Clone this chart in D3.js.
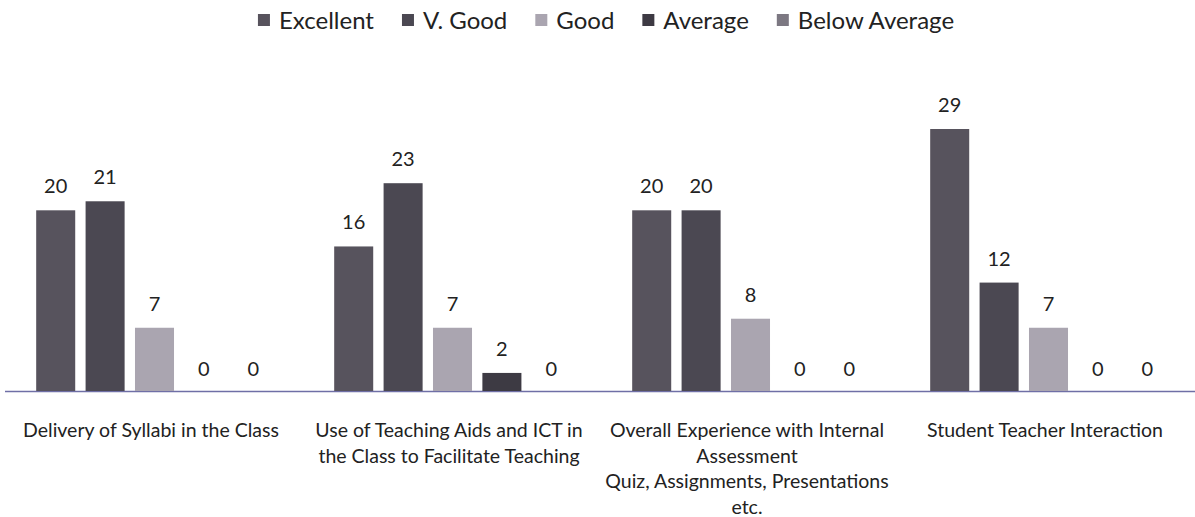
<!DOCTYPE html>
<html>
<head>
<meta charset="utf-8">
<script src="https://cdn.jsdelivr.net/npm/d3@7"></script>
<style>
  body { margin: 0; background: #fff; }
  text { font-family: Lato, "Open Sans", sans-serif; fill: #222; }
</style>
</head>
<body>
<div id="chart"></div>
<script>
// categories (label lines) and series
var categories = ["Delivery", "Teaching Aids", "Internal Assessment", "Interaction"];
var categoryLines = [
  ["Delivery of Syllabi in the Class"],
  ["Use of Teaching Aids and ICT in", "the Class to Facilitate Teaching"],
  ["Overall Experience with Internal", "Assessment", "Quiz, Assignments, Presentations", "etc."],
  ["Student Teacher Interaction"]
];
var series = ["Excellent", "V. Good", "Good", "Average", "Below Average"];
var excellent    = [20, 16, 20, 29];
var vgood        = [21, 23, 20, 12];
var good         = [7, 7, 8, 7];
var average      = [0, 2, 0, 0];
var belowAverage = [0, 0, 0, 0];
var colors = ["#57535d", "#4b4852", "#aaa5b0", "#3d3a43", "#7c7882"];

var values = [excellent, vgood, good, average, belowAverage];

var width = 1195, height = 517;
var baseY = 391;

var svg = d3.select("#chart").append("svg")
    .attr("width", width)
    .attr("height", height);

var x0 = d3.scaleBand().domain(categories).range([2, 2 + 298 * 4]);
var x1 = d3.scaleBand().domain(series).range([29, 276])
    .paddingInner(0.21).paddingOuter(0.105);
var y = d3.scaleLinear().domain([0, 29]).range([baseY, baseY - 262]);

// baseline
svg.append("line")
    .attr("x1", 5).attr("x2", width)
    .attr("y1", baseY + 0.5).attr("y2", baseY + 0.5)
    .style("stroke", "#6f6fa6")
    .style("stroke-width", 1.5);

var groups = svg.selectAll("g.cat").data(categories).enter()
    .append("g").attr("class", "cat")
    .attr("transform", function(d){ return "translate(" + x0(d) + ",0)"; });

groups.each(function(cat, ci){
  var g = d3.select(this);
  series.forEach(function(s, si){
    var v = values[si][ci];
    if (v > 0) {
      g.append("rect")
        .attr("x", x1(s))
        .attr("y", y(v))
        .attr("width", x1.bandwidth())
        .attr("height", baseY - y(v))
        .style("fill", colors[si]);
    }
    g.append("text")
      .attr("x", x1(s) + x1.bandwidth() / 2)
      .attr("y", y(v) - (v > 0 ? 17 : 15))
      .style("text-anchor", "middle")
      .style("font-size", "20px")
      .text(v);
  });

  var lab = g.append("text")
    .attr("x", x0.bandwidth() / 2)
    .attr("y", 437)
    .style("text-anchor", "middle")
    .style("font-size", "19.5px");
  categoryLines[ci].forEach(function(line, li){
    lab.append("tspan")
      .attr("x", x0.bandwidth() / 2)
      .attr("dy", li === 0 ? 0 : 25.5)
      .text(line);
  });
});

// legend
var legend = svg.append("g").attr("class", "legend");
var lx = 0;
series.forEach(function(s, i){
  var item = legend.append("g").attr("transform", "translate(" + lx + ",0)");
  item.append("rect")
    .attr("x", 0).attr("y", 14)
    .attr("width", 12).attr("height", 12)
    .style("fill", colors[i]);
  var t = item.append("text")
    .attr("x", 21).attr("y", 29)
    .style("font-size", "24px")
    .text(s);
  lx += 21 + t.node().getComputedTextLength() + 28;
});
lx -= 28;
legend.attr("transform", "translate(" + (606 - lx / 2) + ",0)");
</script>
</body>
</html>
